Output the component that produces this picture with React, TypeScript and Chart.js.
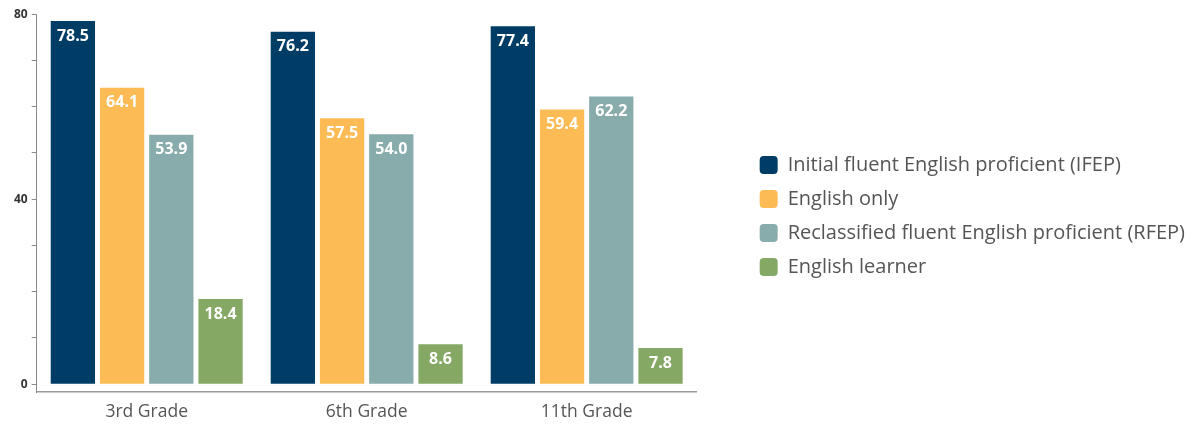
import React, { useEffect, useRef } from "react";
import { Chart, registerables, layouts } from "chart.js";

Chart.register(...registerables);

const categories = ["3rd Grade", "6th Grade", "11th Grade"];
const seriesNames = [
  "Initial fluent English proficient (IFEP)",
  "English only",
  "Reclassified fluent English proficient (RFEP)",
  "English learner",
];
const ifep = [78.5, 76.2, 77.4];
const englishOnly = [64.1, 57.5, 59.4];
const rfep = [53.9, 54.0, 62.2];
const englishLearner = [18.4, 8.6, 7.8];
const seriesColors = ["#003d66", "#fcbb55", "#88abac", "#86a865"];
const yTickLabels = [0, 40, 80];

const FONT = "'Open Sans', 'Noto Sans', sans-serif";
const SPACER = 49;

const spacerPlugin = {
  id: "legendSpacer",
  beforeInit(chart: any) {
    const box: any = {
      position: "right",
      weight: 0,
      fullSize: false,
      options: { display: false },
      top: 0,
      left: 0,
      right: 0,
      bottom: 0,
      width: 0,
      height: 0,
      isHorizontal() {
        return false;
      },
      update(maxWidth: number, maxHeight: number) {
        box.width = SPACER;
        box.height = maxHeight;
      },
      getPadding() {
        return { left: 0, top: 0, right: 0, bottom: 0 };
      },
      draw() {},
    };
    layouts.addBox(chart, box);
  },
};

const valueLabels = {
  id: "valueLabels",
  afterDatasetsDraw(chart: any) {
    const ctx = chart.ctx;
    ctx.save();
    ctx.font = `bold 16px ${FONT}`;
    ctx.fillStyle = "#ffffff";
    ctx.textAlign = "center";
    ctx.textBaseline = "middle";
    chart.data.datasets.forEach((ds: any, i: number) => {
      const meta = chart.getDatasetMeta(i);
      meta.data.forEach((bar: any, j: number) => {
        const v = ds.data[j];
        ctx.fillText(Number(v).toFixed(1), bar.x, bar.y + 15);
      });
    });
    ctx.restore();
  },
};

export default function App() {
  const ref = useRef<HTMLCanvasElement>(null);
  useEffect(() => {
    document.documentElement.style.overflow = "hidden";
    document.body.style.overflow = "hidden";
    const values = [ifep, englishOnly, rfep, englishLearner];
    const chart = new Chart(ref.current!, {
      type: "bar",
      data: {
        labels: categories,
        datasets: seriesNames.map((name, i) => ({
          label: name,
          data: values[i],
          backgroundColor: seriesColors[i],
          borderWidth: 0,
          categoryPercentage: 0.895,
          barPercentage: 0.9,
        })),
      },
      plugins: [spacerPlugin, valueLabels],
      options: {
        animation: false,
        responsive: true,
        maintainAspectRatio: false,
        layout: { padding: { left: 2, top: 0, right: 0, bottom: 0 } },
        plugins: {
          tooltip: { enabled: false },
          legend: {
            position: "right",
            align: "center",
            maxWidth: 700,
            labels: {
              boxWidth: 18,
              boxHeight: 18,
              useBorderRadius: true,
              borderRadius: 4,
              padding: 14,
              color: "#555555",
              font: { family: FONT, size: 20 },
            },
          },
        },
        scales: {
          x: {
            grid: { display: false, drawTicks: false },
            border: { display: true, color: "#9a9a9a", width: 1.5 },
            ticks: {
              color: "#555555",
              padding: 10,
              font: { family: FONT, size: 17.5 },
            },
            afterFit(scale: any) {
              scale.height = 32;
            },
          },
          y: {
            min: -1.7,
            max: 80,
            afterBuildTicks(scale: any) {
              scale.ticks = scale.ticks.filter(
                (t: any) => t.value >= 0 && Math.abs(t.value % 10) < 1e-6
              );
            },
            ticks: {
              stepSize: 10,
              padding: 4,
              color: "#333333",
              font: { family: FONT, size: 12, weight: "bold", lineHeight: 0.35 },
              callback: (v: any) => (yTickLabels.includes(Number(v)) ? String(v) : ""),
            },
            grid: {
              drawOnChartArea: false,
              drawTicks: true,
              tickLength: 5,
              color: "#8a8a8a",
            },
            border: { display: true, color: "#8a8a8a", width: 1 },
          },
        },
      },
    });
    return () => chart.destroy();
  }, []);
  return (
    <div style={{ position: "relative", width: 1187, height: 416 }}>
      <canvas ref={ref} />
    </div>
  );
}
